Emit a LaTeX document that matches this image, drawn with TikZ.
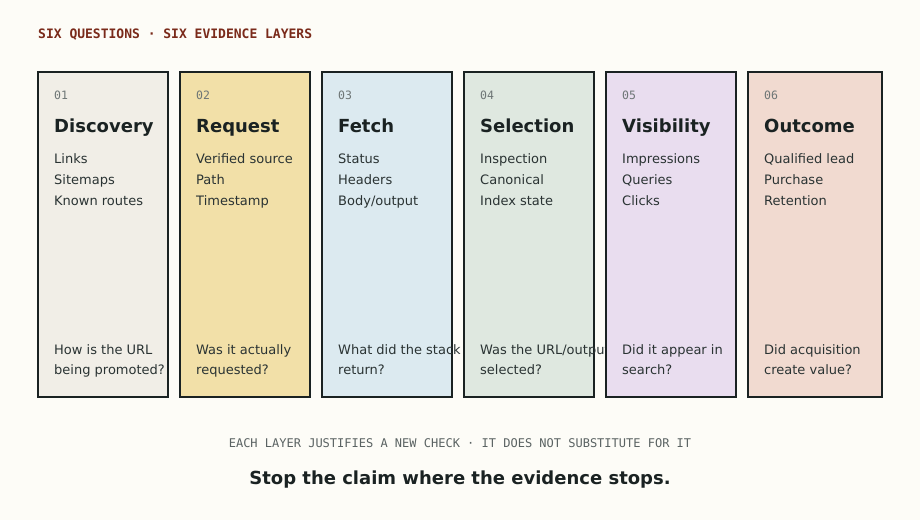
\documentclass[tikz,border=0pt]{standalone}
\usepackage{fontspec}
\setmainfont{DejaVu Sans}
\setmonofont{DejaVu Sans Mono}
\definecolor{bg}{HTML}{FDFCF7}
\definecolor{ink}{HTML}{1A2222}
\definecolor{txt}{HTML}{2A3333}
\definecolor{numc}{HTML}{6E7676}
\definecolor{headc}{HTML}{7A2A1A}
\definecolor{capc}{HTML}{5A6262}
\definecolor{cA}{HTML}{F1EEE7}
\definecolor{cB}{HTML}{F2E0A8}
\definecolor{cC}{HTML}{DCEAF0}
\definecolor{cD}{HTML}{DFE8E0}
\definecolor{cE}{HTML}{E9DDEF}
\definecolor{cF}{HTML}{F1DAD0}
\tikzset{
  layerbox/.style={draw=ink, line width=2.4pt, outer sep=0pt, inner sep=0pt, anchor=north west, minimum height=325pt},
  numtxt/.style={anchor=base west, inner sep=0pt, font=\ttfamily\fontsize{11.5}{13}\selectfont, text=numc},
  titletxt/.style={anchor=base west, inner sep=0pt, font=\bfseries\fontsize{18}{20}\selectfont, text=ink},
  itemtxt/.style={anchor=base west, inner sep=0pt, font=\fontsize{13}{21}\selectfont, text=txt, align=left},
}
\begin{document}
\begin{tikzpicture}[x=1pt,y=-1pt]
\useasboundingbox[fill=bg] (0,0) rectangle (920,520);
\node[anchor=base west, inner sep=0pt, font=\ttfamily\bfseries\fontsize{13}{15}\selectfont, text=headc] (head) at (38,38) {SIX QUESTIONS · SIX EVIDENCE LAYERS};
\foreach \i/\x/\w/\c/\n/\t/\la/\lb/\lc/\qa/\qb in {
  1/38.2/129.6/cA/01/Discovery/Links/Sitemaps/Known routes/How is the URL/being promoted?,
  2/180.2/129.6/cB/02/Request/Verified source/Path/Timestamp/Was it actually/requested?,
  3/322.2/129.6/cC/03/Fetch/Status/Headers/Body\slash output/What did the stack/return?,
  4/464.2/129.6/cD/04/Selection/Inspection/Canonical/Index state/Was the URL\slash output/selected?,
  5/606.2/129.6/cE/05/Visibility/Impressions/Queries/Clicks/Did it appear in/search?,
  6/748.2/133.6/cF/06/Outcome/Qualified lead/Purchase/Retention/Did acquisition/create value?}{
  \node[layerbox, fill=\c, minimum width=\w pt] (box\i) at (\x,72.2) {};
  \node[numtxt] (num\i) at (\x+15.8,99) {\n};
  \node[titletxt] (tit\i) at (\x+15.8,132) {\t};
  \node[itemtxt] (ia\i) at (\x+15.8,163) {\la};
  \node[itemtxt] (ib\i) at (\x+15.8,184) {\lb};
  \node[itemtxt] (ic\i) at (\x+15.8,205) {\lc};
  \node[itemtxt] (qa\i) at (\x+15.8,354) {\qa};
  \node[itemtxt] (qb\i) at (\x+15.8,374) {\qb};
}
\node[anchor=base, inner sep=0pt, font=\ttfamily\fontsize{12}{14}\selectfont, text=capc] (cap) at (460,447) {EACH LAYER JUSTIFIES A NEW CHECK · IT DOES NOT SUBSTITUTE FOR IT};
\node[anchor=base, inner sep=0pt, font=\bfseries\fontsize{18}{21}\selectfont, text=ink] (final) at (460,484) {Stop the claim where the evidence stops.};
\end{tikzpicture}
\end{document}
